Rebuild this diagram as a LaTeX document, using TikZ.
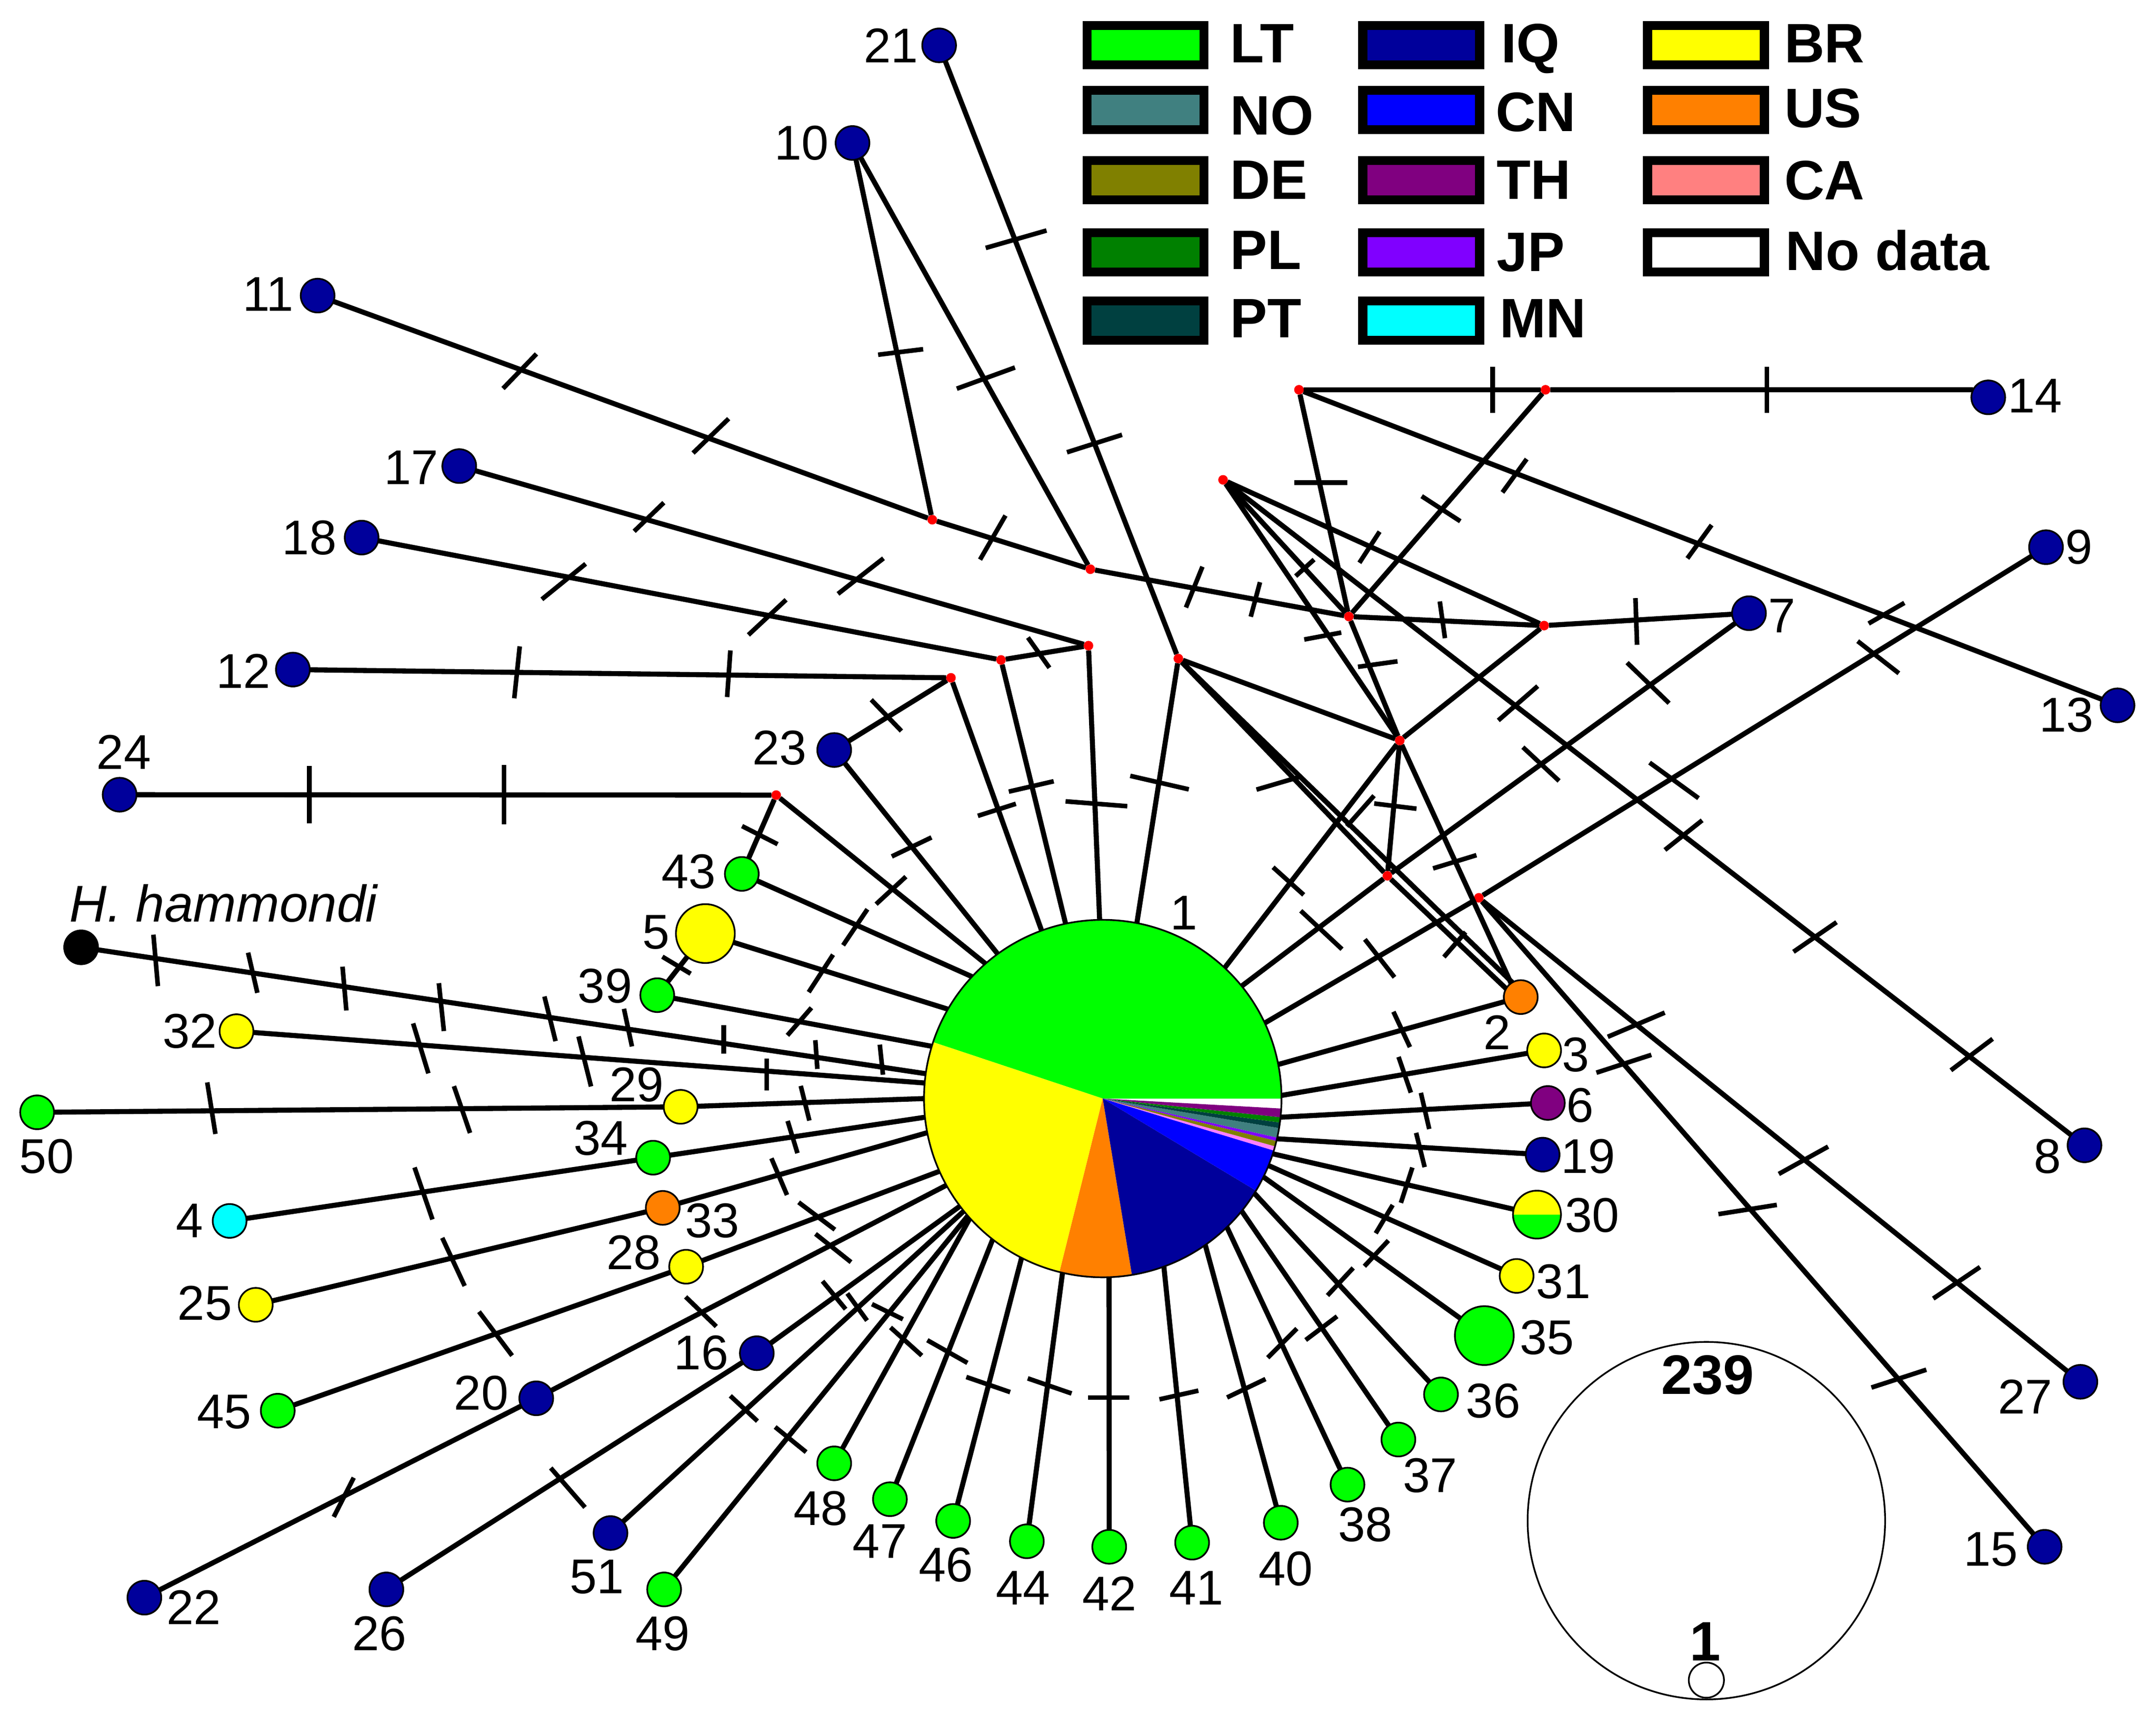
\documentclass[tikz,border=0pt]{standalone}
\usepackage{fontspec}
\setmainfont{Liberation Sans}
\definecolor{hLT}{HTML}{00FF00}
\definecolor{hNO}{HTML}{408080}
\definecolor{hDE}{HTML}{808000}
\definecolor{hPL}{HTML}{008000}
\definecolor{hPT}{HTML}{004040}
\definecolor{hIQ}{HTML}{00009B}
\definecolor{hCN}{HTML}{0000FF}
\definecolor{hTH}{HTML}{800080}
\definecolor{hJP}{HTML}{8000FF}
\definecolor{hMN}{HTML}{00FFFF}
\definecolor{hBR}{HTML}{FFFF00}
\definecolor{hUS}{HTML}{FF8000}
\definecolor{hCA}{HTML}{FF8080}
\definecolor{hpink}{HTML}{FF80FF}
\tikzset{
	hap/.style={circle, draw, line width=0.35pt, inner sep=0pt, outer sep=0pt, minimum size=2.46mm},
	med/.style={circle, fill=red, inner sep=0pt, outer sep=0pt, minimum size=0.7mm},
	link/.style={line width=1.05pt},
	mut/.style={line width=0.95pt},
	lab/.style={font=\fontsize{10.1}{12}\selectfont, inner sep=0pt},
	boldlab/.style={font=\fontsize{11.5}{13}\selectfont\bfseries, inner sep=0pt, text depth=0pt},
	keybox/.style={draw, line width=1.85pt, inner sep=0pt, outer sep=0pt, minimum width=8.5mm, minimum height=2.87mm},
}

\begin{document}
\begin{tikzpicture}[x=0.1mm, y=-0.1mm]
	\useasboundingbox (0,0) rectangle (1568,1246.6);

	%pie
	\foreach \a/\b/\c in {0/161.6/hLT, 161.6/256/hBR, 256/279.4/hUS, 279.4/329/hIQ, 329/343.1/hCN, 343.1/344.5/hpink, 344.5/346.3/hDE, 346.3/347.4/hJP, 347.4/350.5/hNO, 350.5/352.3/hPT, 352.3/354/hPL, 354/356.8/hTH}
		\fill[\c] (802,799) -- plot[domain=\a:\b, samples=30] ({802+130*cos(\x)},{799-130*sin(\x)}) -- cycle;
	\node[hap, minimum size=26mm] (h1) at (802,799) {};
	\node[lab] (t1) at (861,664) {1};

	%haplotypes
	\foreach \n/\x/\y/\c/\lx/\ly in {
		2/1106/725.2/hUS/1089/751, 3/1123/764/hBR/1146/767, 6/1125.7/802.2/hTH/1149/804,
		19/1121.9/839.8/hIQ/1155/841, 31/1103/928/hBR/1137/932, 36/1048/1014.2/hLT/1086/1019,
		37/1017/1047/hLT/1040/1073, 38/980/1079.8/hLT/993/1109, 40/931.5/1107.5/hLT/935/1141,
		41/867/1122/hLT/870/1155, 42/806.7/1125/hLT/807/1159, 44/746.8/1121/hLT/744/1155,
		46/693.2/1106.2/hLT/688/1138, 47/647.2/1090.4/hLT/640/1121, 48/606.7/1064.3/hLT/597/1097,
		49/483/1156/hLT/482/1188, 51/444/1115/hIQ/434/1147, 26/281/1156/hIQ/276/1188,
		22/105/1162/hIQ/141/1169, 16/550.4/984.2/hIQ/510/984, 20/390/1017/hIQ/350/1013,
		45/202/1026/hLT/163/1027, 28/499/921.3/hBR/461/911, 25/186/949/hBR/149/948,
		33/482/878.5/hUS/518/888, 4/167/888/hMN/138/888, 34/475/842/hLT/437/828,
		29/495/805/hBR/463/789, 50/27/809/hLT/34/841, 32/172/750/hBR/138/750,
		39/478/723.8/hLT/440/717, 43/539.5/635.6/hLT/501/634, 23/606.7/545.5/hIQ/567/544,
		24/87/578/hIQ/90/547, 12/213/487/hIQ/177/488, 18/263/391/hIQ/225/391,
		17/334/339/hIQ/299/340, 11/231/215/hIQ/195/214, 10/620/104/hIQ/583/104,
		21/683/33/hIQ/648/33, 14/1446/289/hIQ/1480/288, 9/1488/398/hIQ/1512/398,
		7/1272/446/hIQ/1296/448, 13/1540/513/hIQ/1503/520, 8/1516/833/hIQ/1489/841,
		27/1513/1005/hIQ/1473/1016, 15/1487/1125/hIQ/1448/1127}
	{
		\node[hap, fill=\c] (h\n) at (\x,\y) {};
		\node[lab] (t\n) at (\lx,\ly) {\n};
	}
	\node[hap, fill=hBR, minimum size=4.28mm] (h5) at (513,679) {};
	\node[lab] (t5) at (477,678) {5};
	\node[hap, fill=hLT, minimum size=4.28mm] (h35) at (1079.5,971.4) {};
	\node[lab] (t35) at (1125,973) {35};
	\node[hap, fill=hBR, minimum size=3.49mm, path picture={\fill[hLT] (path picture bounding box.west) rectangle (path picture bounding box.south east);}] (h30) at (1117.8,883.4) {};
	\node[lab] (t30) at (1158,884) {30};
	\node[hap, fill=black] (hh) at (59,689) {};
	\node[lab, font=\fontsize{10.7}{12}\selectfont\itshape, anchor=west] (th) at (50,657) {H. hammondi};

	%median vectors
	\foreach \n/\x/\y in {a/944.7/283.5, b/1124/283.5, c/889.5/349, d/793/414, e/981/448.4, f/1123/455,
		g/791.6/469.6, h/857/479, i/1018/538.6, j/1009/637, k/1075.5/653, m/678/378, n/728/480,
		p/691.6/493, q/564.5/578.3}
		\node[med] (m\n) at (\x,\y) {};

	%links
	\foreach \s/\t in {hh/h1.172, h32/h1.175.7, h50/h29, h29/h1.180, h4/h34, h34/h1.186, h25/h33, h33/h1.191,
		h45/h28, h28/h1.204, h22/h20, h20/h1.209, h26/h16, h16/h1.217, h51/h1.219, h49/h1.221, h48/h1.222.5,
		h47/h1.232, h46/h1.243.5, h44/h1.257, h42/h1.272, h41/h1.290, h40/h1.305, h38/h1.314, h37/h1.321,
		h36/h1.328.6, h35/h1.334, h31/h1.338, h30/h1.342, h19/h1.347, h6/h1.354, h3/h1.1, h2/h1.11,
		mk/h1.25, mj/h1.39, mi/h1.47, mh/h1.79, mg/h1.91, mn/h1.102.5, mp/h1.110, h23/h1.126, mq/h1.131,
		h43/h1.137, h5/h1.150, h39/h1.163,
		h5/h39, h43/mq, mq/h24, h23/mp, mp/h12, mn/mg, mn/h18, mg/h17, md/mm, mm/h11, mm/h10, md/h10, md/me,
		mh/h21, mh/mi, mh/mj, mh/h2.120, mj/h2.150, mi/h2.125, mi/mj, mi/mc, mi/me, mi/mf, mc/me, mc/mf, mc/h8,
		me/ma, me/mb, ma/mb, mb/h14.153, ma/h13, me/mf, mf/h7, mj/h7, mk/h9, mk/h27, mk/h15}
		\draw[link] (\s) -- (\t);

	%mutation marks
	\foreach \x/\y/\a/\l in {
		113.2/698.5/85/37.6, 183.8/707.5/77/30, 250.5/719/85/32, 321/732.5/84/35, 400/741/76/33.5,
		456.7/747.4/78/28, 526.4/756/90/21, 593.7/767/86/21, 641/770.7/84/22,
		306/762.5/73/38, 425.3/772/76/37.5, 557.6/781.5/90/23,
		153.7/806/81/38, 336/807/71/36, 585.5/802.4/76/26,
		308/868/71/40, 576.4/827/73/24.5, 329.8/917.8/65/38.6, 566.7/855.8/67/29,
		360.4/970/53/40, 594/884.4/37/33, 606/907.7/38.5/33, 509.8/954/44/31, 250/1089/-63/32,
		606.6/942/50.5/26.4, 623.4/950.6/54/24.4, 645.4/954/26/25, 659/975.7/42/30.6,
		689/983/29.5/33.5, 718.7/1007/19/33.7, 763.4/1008/19/33.7,
		541/1024.4/43/27, 575/1047/39/29, 413/1082/49/38,
		806.2/1016.4/0/30, 857.4/1014.6/-12.6/29, 906.4/1009.7/-25.6/31, 932.6/976.9/-45/30,
		961/966/-37/28.6, 974.8/932.2/-47/27.4, 1001/911.6/-47/25.6, 1006.7/886.7/-59/24,
		1023/862/-72/27, 1033/836.4/76/25.7, 1036.4/808/77/27, 1021.6/781.7/71/27.5, 1019.4/748.7/65/28.4,
		1003.4/697/52/35, 961/676.4/43/41, 937/640.8/42/30,
		1058/626.8/-17/33, 1058/687/-49/24, 1014.8/586.3/7/31, 1120.7/555.7/43/36,
		1217.5/567.6/36/44, 1366/478/38/38, 1224.4/607.4/-38.5/34.6, 1320/681.5/-34.5/38, 1434/767/-37/38,
		1104/511.5/-41/38, 1190/745.3/-23/45, 1311.6/843.9/-29/41, 1423/933/-34/41,
		1181/773.7/-18/42, 1271/879.7/-9/43, 1381/1002.7/-18/42,
		1085.5/283.5/90/33.5, 1285/283.5/90/33.5, 960.5/351/0/38.5, 1048/370/33/33.5,
		1101.5/346/-54/30, 1236/394/-54/30, 1372/446/-30/30, 996/398/-57/27, 949/413/-42/18,
		868.5/427/-68/32, 913/436/-75/26, 962/462.6/-10.6/27.4, 1002/483/-8/29,
		1049/450.8/82/27, 1190/452/88/34, 1198.6/496.7/44/42.5,
		797.4/584.6/4.5/45, 843.3/569.2/13/43.7, 796/322.6/-17.6/42, 739/174/-16/46,
		717/275/-20/45, 655/256/-7/33, 378/270/-46/35, 517/317/-44/36, 722/391/-60/37,
		472/376/-44/30, 626/419/-38/42, 410/423/-39/41, 558/449/-43/37.5,
		376/489/96/38, 530/490/94/34, 755.4/474.7/54.6/27, 644.6/520.3/46/31.6,
		725/589/-17.6/29, 750/572/-13/33.5, 663/616/-25.6/32, 648/647.6/-42.7/29.5,
		622/674.4/-56/31.6, 597/708/-57/32.5, 581.4/743/-49/26.6, 552.6/607.4/27/29, 492/702/31/24,
		225/578/90/42, 366.5/578/90/43}
		\draw[mut] (\x,\y) +(\a:0.5*\l) -- +(\a+180:0.5*\l);
	\draw[mut] (913.8,574.3) -- (945.4,565);
	\draw[mut] (979.5,601) -- (999.3,578.7);

	%key
	\foreach \n/\x/\y/\c/\tx/\ty in {
		LT/833.2/32.9/hLT/894/31.5, NO/833.2/80/hNO/894/83.9, DE/833.2/131/hDE/894/131,
		PL/833.2/183.6/hPL/894/182, PT/833.2/233.2/hPT/894/231.7,
		IQ/1033.6/32.9/hIQ/1091/31.5, CN/1033.6/80/hCN/1087/81.5, TH/1033.6/131/hTH/1088/131,
		JP/1033.6/183.6/hJP/1088/183.5, MN/1033.6/233.2/hMN/1090/231.7,
		BR/1240.7/32.9/hBR/1297/31.5, US/1240.7/80/hUS/1297/78.7, CA/1240.7/131/hCA/1297/131}
	{
		\node[keybox, fill=\c] (box\n) at (\x,\y) {};
		\node[boldlab, anchor=west] (txt\n) at (\tx,\ty) {\n};
	}
	\node[keybox, fill=white] (boxnone) at (1240.7,183.6) {};
	\node[boldlab, anchor=west] (txtnone) at (1298,182) {No data};

	%scale
	\node[hap, minimum size=26mm] (scale239) at (1241,1106) {};
	\node[hap, minimum size=2.56mm] (scale1) at (1241,1222) {};
	\node[boldlab] (t239) at (1242,1000) {239};
	\node[boldlab] (tone) at (1240,1194) {1};
\end{tikzpicture}
\end{document}
